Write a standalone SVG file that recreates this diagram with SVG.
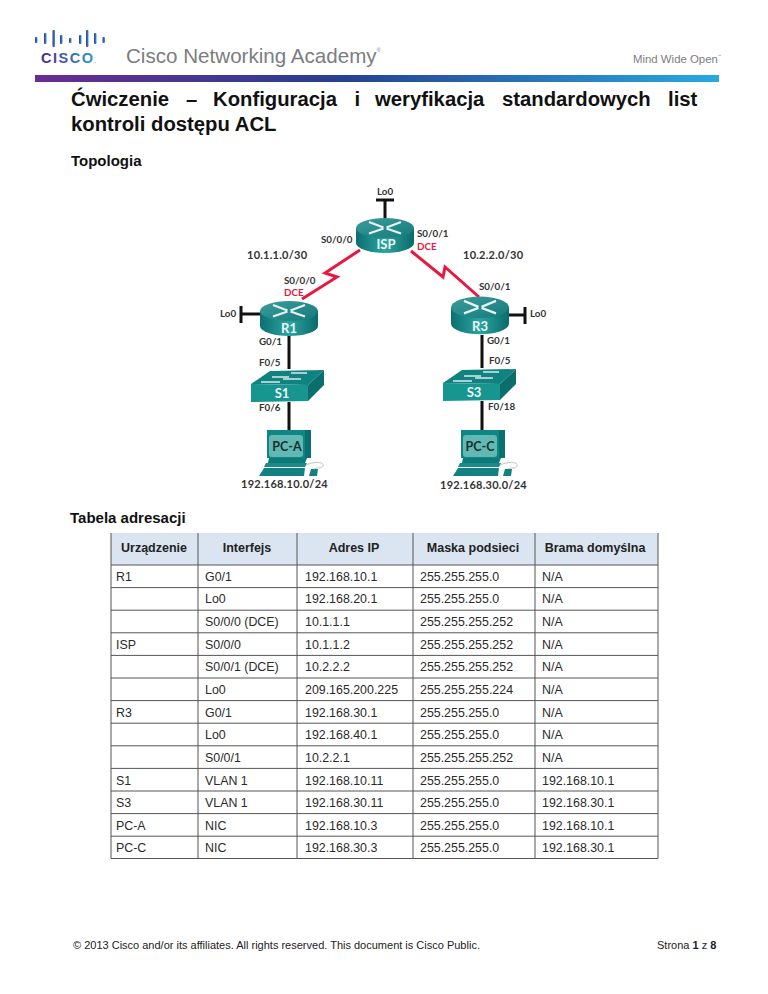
<svg xmlns="http://www.w3.org/2000/svg" xmlns:xlink="http://www.w3.org/1999/xlink" width="768" height="994" viewBox="0 0 768 994">
<style>
text{font-family:"Liberation Sans",Arial,sans-serif}
.t{font-weight:bold;font-size:20.3px;fill:#111}
.h{font-weight:bold;font-size:15px;fill:#111}
.l{font-family:Lato,"Open Sans",sans-serif;font-weight:bold;font-size:9.8px;fill:#333}
.r{fill:#e8173f}
.n{font-size:11px;letter-spacing:.25px}
.w{font-family:Lato,"Open Sans",sans-serif;font-weight:bold;font-size:13px;fill:#eef8f7;text-anchor:middle}
.pl{font-family:Lato,"Open Sans",sans-serif;font-weight:bold;font-size:12.5px;fill:#17302f;text-anchor:middle}
.c{font-size:12.4px;fill:#2a2a2a}
.b{font-size:12.5px;font-weight:bold;fill:#222;text-anchor:middle}
.tl{stroke:#555;stroke-width:1;fill:none}
.red{fill:none;stroke:#e8173f;stroke-width:3}
.blk{fill:none;stroke:#111;stroke-width:3}
.st{stroke:#e4f2f2;stroke-width:2.2;fill:none}
.st2{stroke:#d8ecec;stroke-width:1.500;fill:none}
</style>
<defs>
<linearGradient id="bar"><stop offset="0" stop-color="#6a2c91"/><stop offset=".45" stop-color="#27408f"/><stop offset="1" stop-color="#29a9e0"/></linearGradient>
<linearGradient id="logo"><stop offset="0" stop-color="#4a2a8c"/><stop offset="1" stop-color="#2a9fd8"/></linearGradient>
<linearGradient id="cyl"><stop offset="0" stop-color="#0d6f70"/><stop offset=".5" stop-color="#2aa5a1"/><stop offset="1" stop-color="#0b6a6b"/></linearGradient>
<linearGradient id="top" x1="0" y1="0" x2="1" y2="1"><stop offset="0" stop-color="#3c9c9b"/><stop offset="1" stop-color="#157a7b"/></linearGradient>
<g id="router">
<path d="M-29 -8V7A29 10 0 0 0 29 7V-8Z" fill="url(#cyl)"/>
<ellipse cy="-8" rx="29" ry="10" fill="url(#top)"/>
<path class="st" d="M-16 -14L-1.500 -8.500M16 -14L1.500 -8.500M-16 -2.500L-1.500 -7.500M16 -2.500L1.500 -7.500"/>
</g>
<g id="switch">
<path d="M0 15L19 2L73 1L57 16Z" fill="#108280"/>
<path d="M57 16L73 1V16L57 32Z" fill="#0a6f6c"/>
<path d="M0 15L57 16V32L0 33Z" fill="#17958f"/>
<path class="st2" d="M21 8H38M40 4H56M32 10H50M10 13H29"/>
</g>
<g id="pc">
<path d="M8 0H52V28H8Z" fill="#0f8584"/>
<path d="M46 0H52V28H46Z" fill="#0a6f6f"/>
<rect x="10" y="5" width="34" height="22" rx="3" fill="#62b9b4"/>
<path d="M10 28H48L46 33H9Z" fill="#0d7978"/>
<path d="M7 33H48L46 37H5Z" fill="#168b89"/>
<path d="M5 38H46L45 46H0Z" fill="#118281"/>
<path d="M50 46L52 39H59L58 46Z" fill="#118281"/>
<path d="M47 35C56 31 66 32 64 36C63 39 58 37 55 39" fill="none" stroke="#b7c7cb" stroke-width="1"/>
</g>
</defs>

<g id="header">
<g fill="url(#logo)">
<rect x="35" y="37" width="2.500" height="6" rx="1"/><rect x="44" y="33" width="2.500" height="11" rx="1"/><rect x="52.500" y="30" width="2.500" height="17" rx="1"/><rect x="60" y="35" width="2.500" height="9" rx="1"/><rect x="69" y="38" width="2.500" height="5" rx="1"/><rect x="79" y="35" width="2.500" height="9" rx="1"/><rect x="86" y="30" width="2.500" height="17" rx="1"/><rect x="94" y="33" width="2.500" height="11" rx="1"/><rect x="102.500" y="37" width="2.500" height="6" rx="1"/>
</g>
<text x="41" y="63" font-size="14.500" font-weight="bold" letter-spacing="1.500" fill="url(#logo)">CISCO<tspan font-size="5">.</tspan></text>
<text x="126" y="63" font-size="20.600" fill="#7b7d80">Cisco Networking Academy<tspan font-size="5" dy="-11">®</tspan></text>
<text x="633" y="63" font-size="11.400" fill="#7b7d80">Mind Wide Open<tspan font-size="3.500" dy="-6">™</tspan></text>
<rect x="35" y="75" width="684" height="7" fill="url(#bar)"/>
</g>

<g id="titles">
<text class="t" y="106"><tspan x="71">Ćwiczenie</tspan><tspan x="186">–</tspan><tspan x="213">Konfiguracja</tspan><tspan x="354.500">i</tspan><tspan x="375">weryfikacja</tspan><tspan x="502">standardowych</tspan><tspan x="668">list</tspan></text>
<text class="t" x="71" y="131">kontroli dostępu ACL</text>
<text class="h" x="71" y="166">Topologia</text>
<text class="h" x="70" y="523">Tabela adresacji</text>
</g>

<g id="connectors">
<path class="blk" d="M385 200V218M376 200H394M260 314H241M241 306V323M508 315H525M525 307V324M289 335V369M289 402V430M482 335V368M482 401V430"/>
<path class="red" d="M360 250L325 273L337 277L302 299"/>
<path class="red" d="M411 251L443 277L445 267L479 297"/>
</g>

<g id="ISP"><use xlink:href="#router" href="#router" x="385" y="236"/><text class="w" x="386" y="249">ISP</text></g>
<g id="R1"><use xlink:href="#router" href="#router" x="289" y="319"/><text class="w" x="289" y="333">R1</text></g>
<g id="R3"><use xlink:href="#router" href="#router" transform="translate(480,316) scale(1,1.080)"/><text class="w" x="480" y="331">R3</text></g>
<g id="S1"><use xlink:href="#switch" href="#switch" x="251" y="369"/><text class="w" x="282" y="398">S1</text></g>
<g id="S3"><use xlink:href="#switch" href="#switch" x="443" y="368"/><text class="w" x="474" y="397">S3</text></g>
<g id="PC-A"><use xlink:href="#pc" href="#pc" x="259" y="430"/><text class="pl" x="287" y="451">PC-A</text></g>
<g id="PC-C"><use xlink:href="#pc" href="#pc" x="453" y="430"/><text class="pl" x="480" y="451">PC-C</text></g>

<g id="labels">
<text class="l" x="377" y="195">Lo0</text>
<text class="l" x="321" y="243">S0/0/0</text>
<text class="l" x="417" y="237">S0/0/1</text>
<text class="l r" x="417" y="250">DCE</text>
<text class="l n" x="247" y="259">10.1.1.0/30</text>
<text class="l n" x="463" y="259">10.2.2.0/30</text>
<text class="l" x="284" y="284">S0/0/0</text>
<text class="l r" x="284" y="296">DCE</text>
<text class="l" x="479" y="290">S0/0/1</text>
<text class="l" x="220" y="317">Lo0</text>
<text class="l" x="530" y="317">Lo0</text>
<text class="l" x="259" y="345">G0/1</text>
<text class="l" x="487" y="344">G0/1</text>
<text class="l" x="259" y="366">F0/5</text>
<text class="l" x="489" y="364">F0/5</text>
<text class="l" x="259" y="411">F0/6</text>
<text class="l" x="488" y="410">F0/18</text>
<text class="l n" x="241" y="488">192.168.10.0/24</text>
<text class="l n" x="440" y="489">192.168.30.0/24</text>
</g>

<g id="table">
<rect x="111" y="533" width="547" height="32" fill="#dbe5f1"/>
<path class="tl" d="M111 533V858.500M198 533V858.500M297 533V858.500M413 533V858.500M535 533V858.500M658 533V858.500M111 565H658M111 587.600H658M111 610.200H658M111 632.800H658M111 655.400H658M111 678H658M111 700.600H658M111 723.200H658M111 745.800H658M111 768.400H658M111 791H658M111 813.600H658M111 836.200H658M111 858.500H658"/>
<text class="b" x="154" y="552">Urządzenie</text><text class="b" x="247" y="552">Interfejs</text><text class="b" x="354" y="552">Adres IP</text><text class="b" x="473" y="552">Maska podsieci</text><text class="b" x="595" y="552">Brama domyślna</text>
<text class="c" x="116" y="581">R1</text><text class="c" x="205" y="581">G0/1</text><text class="c" x="305" y="581">192.168.10.1</text><text class="c" x="420" y="581">255.255.255.0</text><text class="c" x="542" y="581">N/A</text>
<text class="c" x="205" y="603">Lo0</text><text class="c" x="305" y="603">192.168.20.1</text><text class="c" x="420" y="603">255.255.255.0</text><text class="c" x="542" y="603">N/A</text>
<text class="c" x="205" y="626">S0/0/0 (DCE)</text><text class="c" x="305" y="626">10.1.1.1</text><text class="c" x="420" y="626">255.255.255.252</text><text class="c" x="542" y="626">N/A</text>
<text class="c" x="116" y="649">ISP</text><text class="c" x="205" y="649">S0/0/0</text><text class="c" x="305" y="649">10.1.1.2</text><text class="c" x="420" y="649">255.255.255.252</text><text class="c" x="542" y="649">N/A</text>
<text class="c" x="205" y="671">S0/0/1 (DCE)</text><text class="c" x="305" y="671">10.2.2.2</text><text class="c" x="420" y="671">255.255.255.252</text><text class="c" x="542" y="671">N/A</text>
<text class="c" x="205" y="694">Lo0</text><text class="c" x="305" y="694">209.165.200.225</text><text class="c" x="420" y="694">255.255.255.224</text><text class="c" x="542" y="694">N/A</text>
<text class="c" x="116" y="717">R3</text><text class="c" x="205" y="717">G0/1</text><text class="c" x="305" y="717">192.168.30.1</text><text class="c" x="420" y="717">255.255.255.0</text><text class="c" x="542" y="717">N/A</text>
<text class="c" x="205" y="739">Lo0</text><text class="c" x="305" y="739">192.168.40.1</text><text class="c" x="420" y="739">255.255.255.0</text><text class="c" x="542" y="739">N/A</text>
<text class="c" x="205" y="762">S0/0/1</text><text class="c" x="305" y="762">10.2.2.1</text><text class="c" x="420" y="762">255.255.255.252</text><text class="c" x="542" y="762">N/A</text>
<text class="c" x="116" y="785">S1</text><text class="c" x="205" y="785">VLAN 1</text><text class="c" x="305" y="785">192.168.10.11</text><text class="c" x="420" y="785">255.255.255.0</text><text class="c" x="542" y="785">192.168.10.1</text>
<text class="c" x="116" y="807">S3</text><text class="c" x="205" y="807">VLAN 1</text><text class="c" x="305" y="807">192.168.30.11</text><text class="c" x="420" y="807">255.255.255.0</text><text class="c" x="542" y="807">192.168.30.1</text>
<text class="c" x="116" y="830">PC-A</text><text class="c" x="205" y="830">NIC</text><text class="c" x="305" y="830">192.168.10.3</text><text class="c" x="420" y="830">255.255.255.0</text><text class="c" x="542" y="830">192.168.10.1</text>
<text class="c" x="116" y="852">PC-C</text><text class="c" x="205" y="852">NIC</text><text class="c" x="305" y="852">192.168.30.3</text><text class="c" x="420" y="852">255.255.255.0</text><text class="c" x="542" y="852">192.168.30.1</text>
</g>

<g id="footer">
<text x="73" y="949" font-size="11" fill="#222">© 2013 Cisco and/or its affiliates. All rights reserved. This document is Cisco Public.</text>
<text x="657" y="949" font-size="11" fill="#222">Strona <tspan font-weight="bold">1</tspan> z <tspan font-weight="bold">8</tspan></text>
</g>
</svg>
